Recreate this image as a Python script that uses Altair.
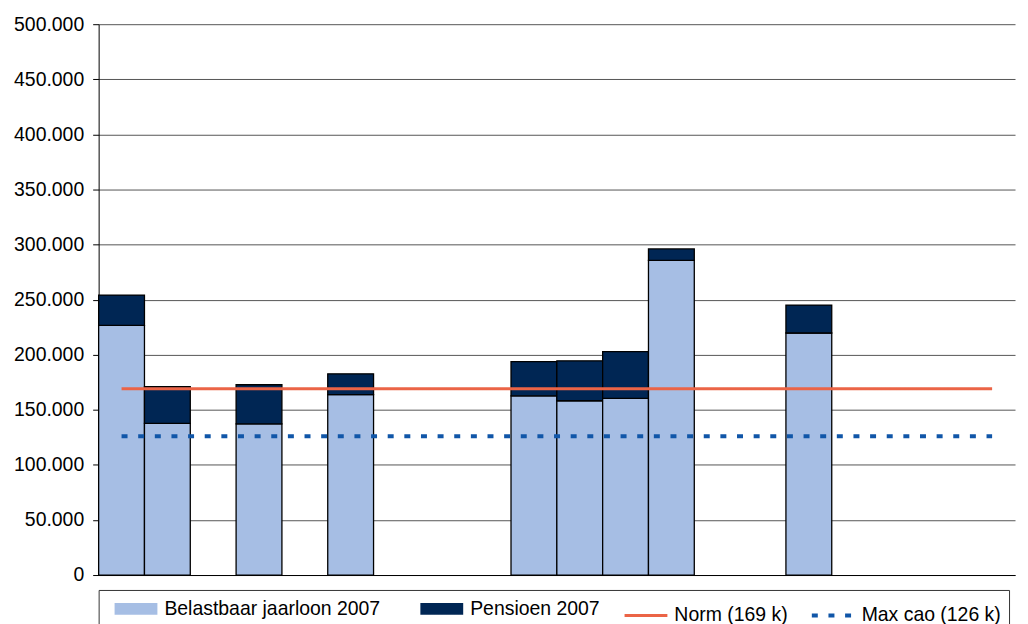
import altair as alt
import pandas as pd

# ---- data ----
slots = [str(i) for i in range(1, 21)]
bar_slots = ["1", "2", "4", "6", "10", "11", "12", "13", "16"]
belastbaar = [226700, 137700, 137200, 163700, 162700, 158200, 160300, 285700, 219700]
pensioen = [27400, 33200, 35500, 18900, 31100, 36200, 42500, 10300, 25300]
series = ["Belastbaar jaarloon 2007", "Pensioen 2007", "Norm (169 k)", "Max cao (126 k)"]
line_values = [169000, 126000]
y_ticks = list(range(0, 500001, 50000))

colors = ["#A6BEE4", "#002654", "#EB6446", "#1056A8"]

rows = []
for s, b, p in zip(bar_slots, belastbaar, pensioen):
    rows.append({"slot": s, "series": series[0], "value": b, "order": 0})
    rows.append({"slot": s, "series": series[1], "value": p, "order": 1})
bars_df = pd.DataFrame(rows)
lines_df = pd.DataFrame({
    "series": series[2:],
    "value": line_values,
    "start": [slots[0]] * 2,
    "end": [slots[-1]] * 2,
})

FONT = "Liberation Sans"

x_enc = alt.X(
    "slot:N",
    scale=alt.Scale(domain=slots, paddingInner=0, paddingOuter=0),
    axis=alt.Axis(labels=False, ticks=False, title=None, grid=False,
                  domainColor="black", domainWidth=1),
)
y_scale = alt.Scale(domain=[0, 500000], nice=False)
y_axis = alt.Axis(
    values=y_ticks,
    labelExpr="replace(format(datum.value, ','), ',', '.')",
    title=None,
    grid=True,
    gridColor="#555555",
    gridWidth=1,
    domainColor="black",
    tickColor="black",
    tickSize=6,
    labelPadding=9,
    labelFontSize=19.5,
    labelFont=FONT,
    labelColor="black",
)

bars = alt.Chart(bars_df).mark_bar(stroke="black", strokeWidth=1.3).encode(
    x=x_enc,
    y=alt.Y("value:Q", stack="zero", scale=y_scale, axis=y_axis),
    fill=alt.Fill("series:N", scale=alt.Scale(domain=series[:2], range=colors[:2]), legend=None),
    order=alt.Order("order:Q"),
)

legend = alt.Legend(
    title=None,
    orient="none",
    legendX=0,
    legendY=568,
    direction="horizontal",
    columns=4,
    symbolType="M-4.3,0L4.3,0",
    symbolSize=100,
    symbolOffset=18.5,
    labelFont=FONT,
    labelFontSize=19.5,
    labelColor="black",
    labelOffset=17.5,
    labelLimit=400,
    columnPadding=16,
    padding=8,
    strokeColor="#333333",
    gridAlign="each",
)

rules = alt.Chart(lines_df).mark_rule(strokeCap="butt").encode(
    x=alt.X("start:N", scale=alt.Scale(domain=slots, paddingInner=0, paddingOuter=0)),
    x2=alt.X2("end"),
    y=alt.Y("value:Q", scale=y_scale),
    stroke=alt.Stroke("series:N", scale=alt.Scale(type="ordinal", domain=series, range=colors), legend=legend),
    strokeWidth=alt.StrokeWidth("series:N", scale=alt.Scale(type="ordinal", domain=series, range=[12, 12, 3, 4]), legend=legend),
    strokeDash=alt.StrokeDash("series:N", scale=alt.Scale(type="ordinal", domain=series, range=[[1, 0], [1, 0], [1, 0], [6, 10.7]]), legend=legend),
)

chart = alt.layer(bars, rules).properties(width=920, height=553).configure_view(strokeWidth=0)

chart.save("out.html", embed_options={"renderer": "svg", "actions": False})
